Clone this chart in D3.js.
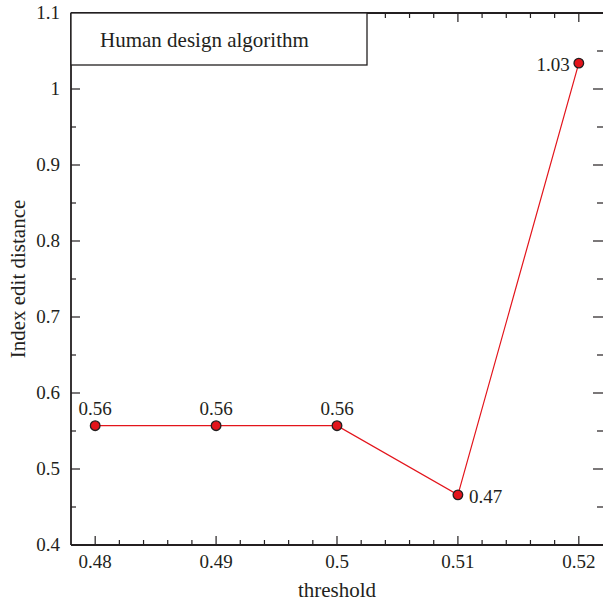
<!DOCTYPE html>
<html><head><meta charset="utf-8">
<script src="https://cdn.jsdelivr.net/npm/d3@7"></script>
<style>body{margin:0;background:#fff}svg{display:block}</style>
</head><body>
<svg id="c" width="603" height="601" font-family="'Liberation Serif', 'Times New Roman', Times, serif"></svg>
<script>
const thresholds = [0.48, 0.49, 0.50, 0.51, 0.52];
const distances = [0.557, 0.557, 0.557, 0.466, 1.034];
const pointLabels = ["0.56", "0.56", "0.56", "0.47", "1.03"];
const xTicks = [0.48, 0.49, 0.50, 0.51, 0.52];
const xTickLabels = ["0.48", "0.49", "0.5", "0.51", "0.52"];
const yTicks = [0.4, 0.5, 0.6, 0.7, 0.8, 0.9, 1.0, 1.1];
const yTickLabels = ["0.4", "0.5", "0.6", "0.7", "0.8", "0.9", "1", "1.1"];
const seriesName = "Human design algorithm";

const svg = d3.select("#c");
const L = 71, R = 603, T = 13, B = 545;
const x = d3.scaleLinear().domain([0.478, 0.522]).range([L, R]);
const y = d3.scaleLinear().domain([0.4, 1.1]).range([B, T]);
const ink = "#231f20";
const FF = "'Liberation Serif', 'Times New Roman', Times, serif";

const xMinor = d3.range(0, 23).map(i => 0.478 + i * 0.002);
const yMinor = d3.range(0, 15).map(i => 0.4 + i * 0.05);

const g = svg.append("g");
g.append("line").attr("x1", L).attr("x2", L).attr("y1", T).attr("y2", B).attr("stroke", ink).attr("stroke-width", 1.8);
g.append("line").attr("x1", L).attr("x2", R).attr("y1", B).attr("y2", B).attr("stroke", ink).attr("stroke-width", 1.8);
g.append("line").attr("x1", L).attr("x2", R).attr("y1", T).attr("y2", T).attr("stroke", ink).attr("stroke-width", 1.8);

xMinor.forEach(v => {
  const major = xTicks.some(t => Math.abs(t - v) < 1e-9);
  const len = major ? 9 : 5;
  const px = x(v);
  if (px <= L + 1 || px >= R - 1) return;
  g.append("line").attr("x1", px).attr("x2", px).attr("y1", B).attr("y2", B - len).attr("stroke", ink).attr("stroke-width", 1.2);
  g.append("line").attr("x1", px).attr("x2", px).attr("y1", T).attr("y2", T + len).attr("stroke", ink).attr("stroke-width", 1.2);
});
yMinor.forEach(v => {
  const major = yTicks.some(t => Math.abs(t - v) < 1e-9);
  const len = major ? 9 : 5;
  const py = y(v);
  if (py <= T + 1 || py >= B - 1) return;
  g.append("line").attr("x1", L).attr("x2", L + len).attr("y1", py).attr("y2", py).attr("stroke", ink).attr("stroke-width", 1.2);
  g.append("line").attr("x1", R + 1).attr("x2", R + 1 - len - 2).attr("y1", py).attr("y2", py).attr("stroke", ink).attr("stroke-width", 1.2);
});

function txt(sel) { return sel.append("text").attr("font-family", FF).attr("fill", ink); }

xTicks.forEach((t, i) => {
  txt(svg).attr("x", x(t)).attr("y", 568).attr("text-anchor", "middle").attr("font-size", 19).text(xTickLabels[i]);
});
yTicks.forEach((t, i) => {
  txt(svg).attr("x", 60).attr("y", y(t) + 6).attr("text-anchor", "end").attr("font-size", 19).text(yTickLabels[i]);
});

txt(svg).attr("x", x(0.50)).attr("y", 597).attr("text-anchor", "middle").attr("font-size", 21).text("threshold");
txt(svg).attr("transform", `translate(25,${(T + B) / 2}) rotate(-90)`).attr("text-anchor", "middle").attr("font-size", 21).text("Index edit distance");

svg.append("rect").attr("x", L).attr("y", T).attr("width", 296).attr("height", 52).attr("fill", "#fff").attr("stroke", ink).attr("stroke-width", 1.3);
txt(svg).attr("x", 100).attr("y", 47).attr("font-size", 21).text(seriesName);

const line = d3.line().x((d, i) => x(thresholds[i])).y(d => y(d));
svg.append("path").datum(distances).attr("d", line).attr("fill", "none").attr("stroke", "#e3141b").attr("stroke-width", 1.2);

svg.selectAll("circle.p").data(distances).enter().append("circle")
  .attr("cx", (d, i) => x(thresholds[i])).attr("cy", d => y(d)).attr("r", 4.8)
  .attr("fill", "#e3141b").attr("stroke", ink).attr("stroke-width", 1.3);

const labelPos = [
  {dx: 0, dy: -11, anchor: "middle"},
  {dx: 0, dy: -11, anchor: "middle"},
  {dx: 0, dy: -11, anchor: "middle"},
  {dx: 11, dy: 8, anchor: "start"},
  {dx: -9, dy: 8, anchor: "end"}
];
distances.forEach((d, i) => {
  const p = labelPos[i];
  txt(svg).attr("x", x(thresholds[i]) + p.dx).attr("y", y(d) + p.dy)
    .attr("text-anchor", p.anchor).attr("font-size", 19).text(pointLabels[i]);
});
</script>
</body></html>
